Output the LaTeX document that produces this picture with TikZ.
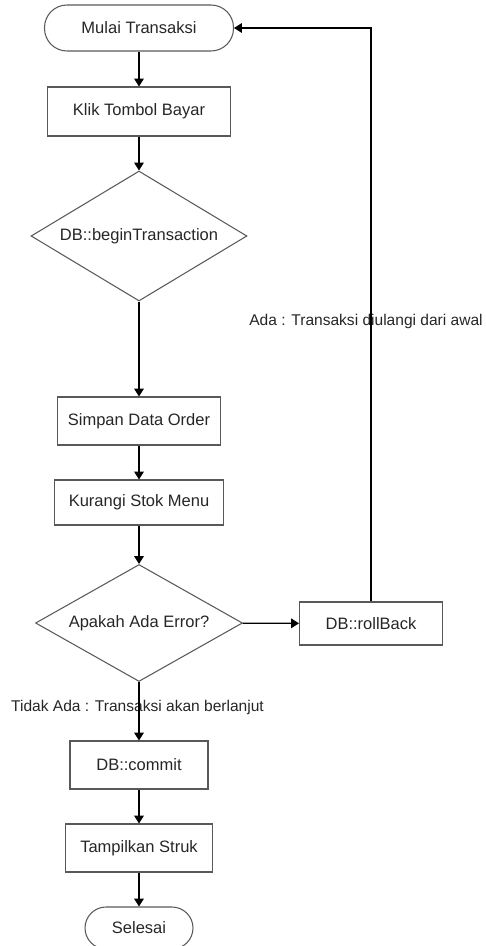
\documentclass[tikz,border=0pt]{standalone}
\usepackage{fontspec}
\setmainfont{Liberation Sans}
\usetikzlibrary{arrows.meta}
\usetikzlibrary{shapes.geometric}

\begin{document}
\begin{tikzpicture} [x=0.02cm, y=-0.02cm,
  font=\fontsize{9.4}{11}\selectfont, text=black!85,
  box/.style={draw=black!65, line width=0.6pt, inner sep=0, minimum height=0.96cm},
  term/.style={box, rounded corners=4.5mm},
  cond/.style={draw=black!65, line width=0.6pt, diamond, inner sep=0},
  lbl/.style={font=\fontsize{8.85}{10}\selectfont, inner sep=0},
  arr/.style={black, line width=0.7pt, -{Triangle[width=5.5pt,length=4.5pt]}}]
\useasboundingbox (0,0) rectangle (485,946);
\node[term, minimum width=3.78cm, minimum height=0.92cm] (mulai) at (139,28) {Mulai Transaksi};
\node[box, minimum width=3.66cm, minimum height=0.98cm] (klik) at (139,111.5) {Klik Tombol Bayar};
\node[cond, aspect=1.66, minimum width=4.32cm, minimum height=2.6cm] (begin) at (139,236) {DB::beginTransaction};
\node[box, minimum width=3.26cm] (simpan) at (139,421) {Simpan Data Order};
\node[box, minimum width=3.38cm, minimum height=0.9cm] (kurangi) at (139,502.5) {Kurangi Stok Menu};
\node[cond, aspect=1.77, minimum width=4.14cm, minimum height=2.34cm] (error) at (139,623) {Apakah Ada Error?};
\node[box, minimum width=2.86cm, minimum height=0.86cm] (rollback) at (371,623.5) {DB::rollBack};
\node[box, minimum width=2.76cm] (commit) at (139,765) {DB::commit};
\node[box, minimum width=2.94cm] (struk) at (139,848) {Tampilkan Struk};
\node[term, minimum width=2.16cm, minimum height=0.84cm, rounded corners=4.2mm] (selesai) at (139,928) {Selesai};
\node[lbl] (ada) at (366,321) {Ada : Transaksi diulangi dari awal};
\node[lbl] (tidak) at (137.5,707) {Tidak Ada : Transaksi akan berlanjut};
\draw[arr] (mulai) -- (klik);
\draw[arr] (klik) -- (begin);
\draw[arr] (begin) -- (simpan);
\draw[arr] (simpan) -- (kurangi);
\draw[arr] (kurangi) -- (error);
\draw[arr] (error) -- (rollback);
\draw[arr] (rollback.north) |- (mulai.east);
\draw[arr] (error) -- (commit);
\draw[arr] (commit) -- (struk);
\draw[arr] (struk) -- (selesai);
\end{tikzpicture}
\end{document}
